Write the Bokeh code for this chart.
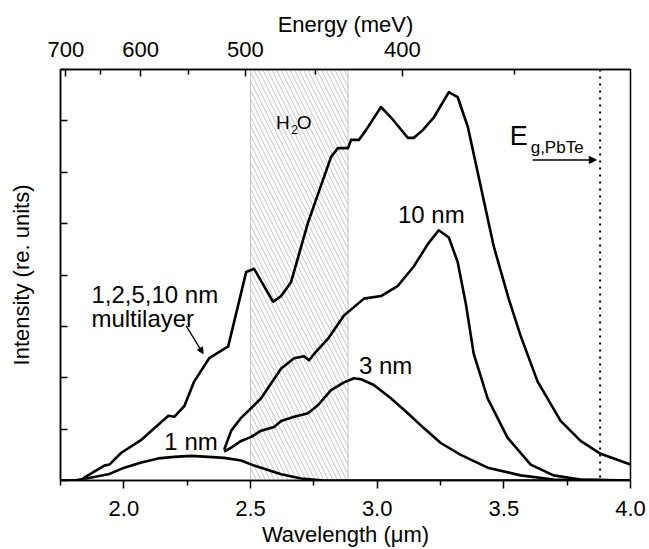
from bokeh.plotting import figure
from bokeh.models import (LinearAxis, FixedTicker, CustomJSTickFormatter, NumeralTickFormatter,
                          Label, Span, Arrow, NormalHead)
from bokeh.embed import file_html
from bokeh.resources import INLINE

# ---- data (wavelength in um, intensity in arbitrary units) ----
multi_x = [1.75, 1.833, 1.845, 1.923, 1.943, 1.990, 2.069, 2.109, 2.176, 2.199, 2.239, 2.278, 2.337, 2.412,
           2.483, 2.514, 2.589, 2.621, 2.660, 2.727, 2.818, 2.845, 2.885, 2.897, 2.928, 2.956, 3.015,
           3.054, 3.121, 3.145, 3.180, 3.224, 3.283, 3.318, 3.358, 3.409, 3.460, 3.519, 3.566, 3.633,
           3.724, 3.803, 3.882, 4.0]
multi_y = [0.0, 0.0, 0.06, 0.29, 0.31, 0.54, 0.79, 0.97, 1.26, 1.24, 1.45, 1.93, 2.38, 2.61,
           4.06, 4.12, 3.48, 3.59, 3.86, 5.02, 6.30, 6.47, 6.47, 6.63, 6.63, 6.82, 7.27,
           7.07, 6.67, 6.67, 6.82, 7.07, 7.56, 7.46, 6.88, 5.72, 4.56, 3.54, 2.82, 1.93,
           1.16, 0.77, 0.52, 0.31]

nm10_x = [2.396, 2.424, 2.463, 2.542, 2.621, 2.672, 2.711, 2.731, 2.759, 2.806, 2.869, 2.948, 3.015,
          3.082, 3.145, 3.200, 3.243, 3.283, 3.318, 3.350, 3.381, 3.436, 3.515, 3.606, 3.696, 3.803, 4.0]
nm10_y = [0.60, 0.97, 1.22, 1.60, 2.18, 2.38, 2.42, 2.34, 2.51, 2.76, 3.21, 3.54, 3.59,
          3.79, 4.17, 4.60, 4.87, 4.73, 4.25, 3.44, 2.47, 1.60, 0.83, 0.31, 0.10, 0.02, 0.0]

nm3_x = [2.396, 2.424, 2.463, 2.503, 2.542, 2.593, 2.621, 2.672, 2.727, 2.767, 2.818, 2.869, 2.908,
         2.936, 2.987, 3.054, 3.121, 3.184, 3.251, 3.330, 3.436, 3.566, 3.696, 4.0]
nm3_y = [0.56, 0.64, 0.77, 0.85, 0.97, 1.04, 1.16, 1.24, 1.31, 1.47, 1.76, 1.91, 1.99,
         1.97, 1.86, 1.60, 1.31, 1.02, 0.73, 0.50, 0.25, 0.10, 0.02, 0.0]

nm1_x = [1.75, 1.805, 1.872, 1.939, 2.002, 2.069, 2.136, 2.199, 2.266, 2.333, 2.396, 2.463, 2.514,
         2.542, 2.621, 2.700, 2.790, 3.0, 3.5, 4.0]
nm1_y = [0.0, 0.0, 0.06, 0.12, 0.25, 0.35, 0.43, 0.46, 0.48, 0.46, 0.44, 0.39, 0.29,
         0.25, 0.12, 0.04, 0.0, 0.0, 0.0, 0.0]

h2o_band = [2.5, 2.885]          # wavelength range of the water absorption band
eg_pbte = 3.88                   # PbTe band-gap wavelength (um)
x_major = [2.0, 2.5, 3.0, 3.5, 4.0]
x_minor = [1.75, 2.25, 2.75, 3.25, 3.75]
energy_major = [700, 600, 500, 400]   # meV
energy_minor = [650, 550, 450, 350]
HC = 1239.84                     # meV*um

FONT = "Liberation Sans"

p = figure(width=649, height=549, x_range=(1.75, 4.0), y_range=(0, 8),
           output_backend="svg", toolbar_location=None,
           min_border_left=60, min_border_right=19, min_border_top=69, min_border_bottom=66)
p.xgrid.visible = False
p.ygrid.visible = False
p.outline_line_color = "black"
p.outline_line_width = 1.5
p.background_fill_color = "white"
p.border_fill_color = "white"

# water band (hatched)
p.quad(left=[h2o_band[0]], right=[h2o_band[1]], bottom=[0], top=[8],
       fill_color=None, line_color="#c4c4c4", line_width=1,
       hatch_pattern="\\", hatch_color="#c4c4c4", hatch_scale=9, hatch_weight=1)

for xs, ys in [(nm1_x, nm1_y), (nm3_x, nm3_y), (nm10_x, nm10_y), (multi_x, multi_y)]:
    p.line(xs, ys, line_color="black", line_width=2.6, line_join="round")

# PbTe gap marker
p.add_layout(Span(location=eg_pbte, dimension="height", line_color="black",
                  line_width=2, line_dash="2 5"))
p.add_layout(Arrow(end=NormalHead(size=7, fill_color="black", line_color="black"),
                   x_start=3.614, y_start=6.24, x_end=3.865, y_end=6.24,
                   line_color="black", line_width=1.5))

# bottom axis
xa = p.xaxis[0]
xa.ticker = FixedTicker(ticks=x_major, minor_ticks=x_minor)
xa.formatter = NumeralTickFormatter(format="0.0")
xa.axis_label = "Wavelength (\u03bcm)"
xa.major_tick_in = 0
xa.major_tick_out = 8
xa.minor_tick_in = 0
xa.minor_tick_out = 5
xa.major_label_standoff = 12
xa.axis_label_standoff = 3

# left axis
ya = p.yaxis[0]
ya.ticker = FixedTicker(ticks=list(range(0, 9)), minor_ticks=[])
ya.major_tick_in = 7
ya.major_tick_out = 0
ya.minor_tick_in = 0
ya.minor_tick_out = 0
ya.major_label_text_font_size = "0px"
ya.major_label_standoff = 0
ya.axis_label = "Intensity (re. units)"
ya.axis_label_standoff = 27

# top energy axis
top = LinearAxis(ticker=FixedTicker(ticks=[HC / e for e in energy_major],
                                    minor_ticks=[HC / e for e in energy_minor]),
                 formatter=CustomJSTickFormatter(code="return Math.round(1239.84/tick).toFixed(0);"),
                 axis_label="Energy (meV)")
top.major_tick_in = 7
top.major_tick_out = 0
top.minor_tick_in = 5
top.minor_tick_out = 0
top.major_label_standoff = 13
top.axis_label_standoff = 2
p.add_layout(top, "above")

for ax in [xa, ya, top]:
    ax.axis_line_width = 1.5
    ax.axis_line_color = "black"
    ax.major_tick_line_width = 1.5
    ax.minor_tick_line_width = 1.5
    ax.major_label_text_font = FONT
    ax.axis_label_text_font = FONT
    ax.axis_label_text_font_style = "normal"
    ax.major_label_text_color = "black"
    ax.axis_label_text_color = "black"
    ax.axis_label_text_font_size = "22px"
    if ax is not ya:
        ax.major_label_text_font_size = "22px"

def lab(x, y, t, size="24px", **kw):
    p.add_layout(Label(x=x, y=y, text=t, text_font=FONT, text_font_size=size,
                       text_color="black", text_baseline="alphabetic", **kw))

lab(1.872, 3.63, "1,2,5,10 nm")
lab(1.872, 3.15, "multilayer")
lab(2.16, 0.76, "1 nm")
lab(2.928, 2.24, "3 nm")
lab(3.082, 5.18, "10 nm")
lab(2.601, 6.96, "H", size="19px")
lab(2.661, 6.83, "2", size="12px")
lab(2.683, 6.96, "O", size="19px")
lab(3.523, 6.71, "E", size="27px")
lab(3.606, 6.49, "g,PbTe", size="17px")

p.add_layout(Arrow(end=NormalHead(size=6, fill_color="black", line_color="black"),
                   x_start=2.246, y_start=3.01, x_end=2.313, y_end=2.47,
                   line_color="black", line_width=1.3))

open("out.html", "w").write(file_html(p, INLINE))
